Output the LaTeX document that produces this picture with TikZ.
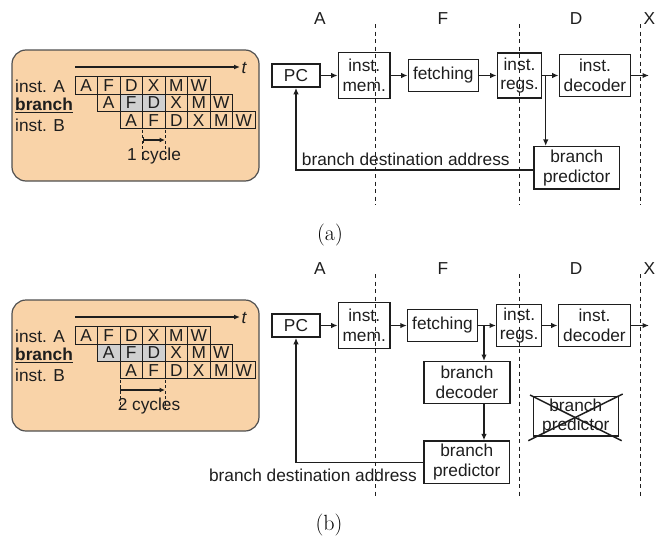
\documentclass[tikz,border=0pt]{standalone}
\usepackage{fontspec}
\newfontfamily\sansfont{Liberation Sans}
\usetikzlibrary{arrows.meta}
\definecolor{peach}{RGB}{249,211,168}
\definecolor{cellgray}{RGB}{208,208,208}
\definecolor{ink}{RGB}{30,30,30}
\definecolor{rim}{RGB}{80,80,80}
\tikzset{
  lbl/.style={font=\sansfont\fontsize{17.3}{19.5}\selectfont, text=ink, inner sep=0pt},
  blk/.style={lbl, draw=ink, line width=1.4pt, align=center},
  tcell/.style={lbl, draw=ink, line width=1pt, minimum width=22.5pt, minimum height=17.3pt},
  tcellg/.style={tcell, fill=cellgray},
  flow/.style={draw=ink, line width=1.4pt, -{Latex[length=6.5pt,width=5.5pt]}},
  timeaxis/.style={draw=ink, line width=1.2pt, -{Latex[length=6pt,width=5pt]}},
  cyclespan/.style={draw=ink, line width=1.1pt, {Bar[width=6pt]}-{Latex[length=5.5pt,width=5pt]}},
  stagesep/.style={draw=ink, line width=1pt, dash pattern=on 4pt off 3.5pt},
  cyclesep/.style={draw=ink, line width=0.9pt, dash pattern=on 3pt off 2.5pt},
  panel/.style={draw=rim, line width=1.2pt, fill=peach, rounded corners=14pt},
  subcap/.style={font=\fontsize{22}{26}\selectfont, inner sep=0pt},
  crossout/.style={draw=ink, line width=1.5pt},
}
\begin{document}
\begin{tikzpicture}[x=1pt,y=-1pt]
\useasboundingbox (0,0) rectangle (656,541);

% ===================== (a) timing panel =====================
\draw[panel] (12,50) rectangle (259,181);
\coordinate (t0a) at (75,67);
\coordinate (t1a) at (240,67);
\draw[timeaxis] (t0a) -- (t1a);
\node[lbl, anchor=west, font=\sansfont\itshape\fontsize{17.3}{19.5}\selectfont] (tA) at (241.5,67.5) {t};

\draw[cyclesep] (142.5,129.5) -- (142.5,162);
\draw[cyclesep] (165,129.5) -- (165,162);

\foreach \l [count=\i from 0] in {A,F,D,X,M,W}
  \node[tcell] (a1c\i) at (86.25+22.5*\i,85.6) {\l};
\foreach \l/\st [count=\i from 0] in {A/tcell,F/tcellg,D/tcellg,X/tcell,M/tcell,W/tcell}
  \node[\st] (a2c\i) at (108.75+22.5*\i,102.9) {\l};
\foreach \l [count=\i from 0] in {A,F,D,X,M,W}
  \node[tcell] (a3c\i) at (131.25+22.5*\i,120.2) {\l};

\node[lbl, anchor=base west] (la1) at (15,92.8) {inst. A};
\node[lbl, anchor=base west] (la2) at (15,110.8) {\underline{\textbf{branch}}};
\node[lbl, anchor=base west] (la3) at (15,131.3) {inst. B};

\coordinate (s0a) at (142.5,140);
\coordinate (s1a) at (165,140);
\draw[cyclespan] (s0a) -- (s1a);
\node[lbl, anchor=base] (cycA) at (154,160.7) {1 cycle};

% ===================== (a) pipeline =====================
\foreach \x/\s in {320/A,443/F,576/D,649.5/X}
  \node[lbl] (stA\s) at (\x,18.5) {\s};
\foreach \x in {375.7,519.3,640}
  \draw[stagesep] (\x,24) -- (\x,205);

\node[blk, minimum width=48.3, minimum height=23.3] (pcA) at (296,75.5) {PC};
\node[blk, minimum width=51.7, minimum height=46] (memA) at (364.2,75.5) {inst.\\mem.};
\node[blk, minimum width=70, minimum height=32.4] (fetA) at (443.3,75.5) {fetching};
\node[blk, minimum width=44.4, minimum height=45] (regA) at (519.5,75.5) {inst.\\regs.};
\node[blk, minimum width=71.4, minimum height=41.7] (decA) at (595,75.5) {inst.\\decoder};
\node[blk, minimum width=85.3, minimum height=42.3] (bpA) at (576.7,167.8) {branch\\predictor};

\draw[flow] (pcA) -- (memA);
\draw[flow] (memA) -- (fetA);
\draw[flow] (fetA) -- (regA);
\draw[flow] (regA) -- (decA);
\coordinate (jA) at (545.7,75.5);
\draw[flow] (jA) -- (jA |- bpA.north);
\coordinate (outA) at (649,75.5);
\draw[flow] (decA) -- (outA);
\draw[flow] ([yshift=-2.2pt]bpA.west) -| (pcA.south);
\node[lbl, anchor=base west] (addrA) at (301.7,165.5) {branch destination address};

\node[subcap] (capA) at (330,235.5) {(a)};

% ===================== (b) timing panel =====================
\draw[panel] (12,300) rectangle (259,431);
\coordinate (t0b) at (75,317);
\coordinate (t1b) at (240,317);
\draw[timeaxis] (t0b) -- (t1b);
\node[lbl, anchor=west, font=\sansfont\itshape\fontsize{17.3}{19.5}\selectfont] (tB) at (241.5,317.5) {t};

\draw[cyclesep] (120,379.5) -- (120,412);
\draw[cyclesep] (165,379.5) -- (165,412);

\foreach \l [count=\i from 0] in {A,F,D,X,M,W}
  \node[tcell] (b1c\i) at (86.25+22.5*\i,335.6) {\l};
\foreach \l/\st [count=\i from 0] in {A/tcellg,F/tcellg,D/tcellg,X/tcell,M/tcell,W/tcell}
  \node[\st] (b2c\i) at (108.75+22.5*\i,352.9) {\l};
\foreach \l [count=\i from 0] in {A,F,D,X,M,W}
  \node[tcell] (b3c\i) at (131.25+22.5*\i,370.2) {\l};

\node[lbl, anchor=base west] (lb1) at (15,342.8) {inst. A};
\node[lbl, anchor=base west] (lb2) at (15,360.8) {\underline{\textbf{branch}}};
\node[lbl, anchor=base west] (lb3) at (15,381.3) {inst. B};

\coordinate (s0b) at (120,390);
\coordinate (s1b) at (165,390);
\draw[cyclespan] (s0b) -- (s1b);
\node[lbl, anchor=base] (cycB) at (149,410.7) {2 cycles};

% ===================== (b) pipeline =====================
\foreach \x/\s in {320/A,443/F,576/D,649.5/X}
  \node[lbl] (stB\s) at (\x,268.5) {\s};
\foreach \x in {375.7,519.3,640}
  \draw[stagesep] (\x,274) -- (\x,497);

\node[blk, minimum width=48.3, minimum height=23.3] (pcB) at (296,325.5) {PC};
\node[blk, minimum width=51.7, minimum height=46] (memB) at (364.2,325.5) {inst.\\mem.};
\node[blk, minimum width=70, minimum height=32.4] (fetB) at (442.5,325.5) {fetching};
\node[blk, minimum width=45, minimum height=42.4] (regB) at (519.2,325.5) {inst.\\regs.};
\node[blk, minimum width=72.4, minimum height=42] (decB) at (594.5,325.5) {inst.\\decoder};
\node[blk, minimum width=86, minimum height=41.6] (bdB) at (467,382.5) {branch\\decoder};
\node[blk, minimum width=85.3, minimum height=42.3] (bpB) at (466.7,462.2) {branch\\predictor};
\node[blk, minimum width=85, minimum height=39.3] (xbpB) at (575.8,416.3) {branch\\predictor};
\coordinate (xa0) at (530,395);
\coordinate (xa1) at (621.7,440.7);
\coordinate (xb0) at (528.3,440.7);
\coordinate (xb1) at (622.7,394);
\draw[crossout] (xa0) -- (xa1);
\draw[crossout] (xb0) -- (xb1);

\draw[flow] (pcB) -- (memB);
\draw[flow] (memB) -- (fetB);
\draw[flow] (fetB) -- (regB);
\draw[flow] (regB) -- (decB);
\coordinate (jB) at (484,325.5);
\draw[flow] (jB) -- (jB |- bdB.north);
\draw[flow] (jB |- bdB.south) -- (jB |- bpB.north);
\coordinate (outB) at (649,325.5);
\draw[flow] (decB) -- (outB);
\draw[flow] (bpB.west) -| (pcB.south);
\node[lbl, anchor=base east] (addrB) at (417,481) {branch destination address};

\node[subcap] (capB) at (329,525.5) {(b)};
\end{tikzpicture}
\end{document}
